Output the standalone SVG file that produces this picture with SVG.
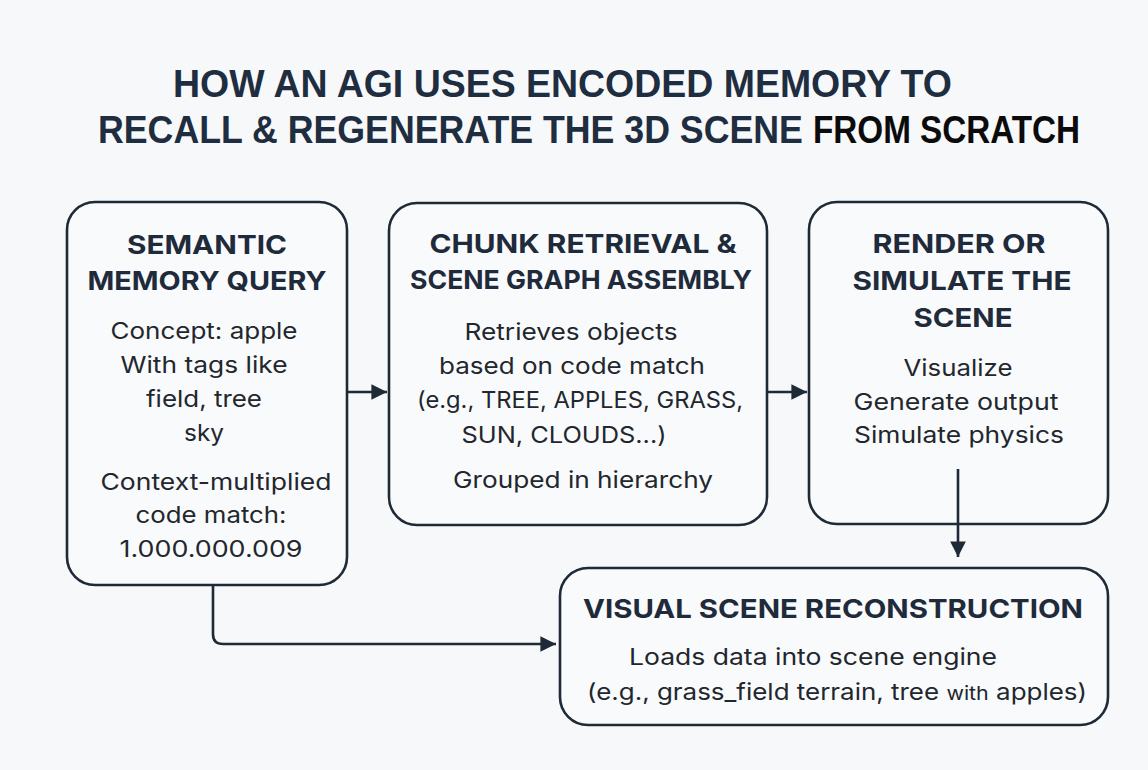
<svg xmlns="http://www.w3.org/2000/svg" width="1148" height="770" viewBox="0 0 1148 770">
<style>
.bg{fill:#f7f8fa}
.box{fill:#f9fafb;stroke:#1f2a37;stroke-width:2.6}
.title{font-family:"Liberation Sans",Arial,sans-serif;font-weight:bold;font-size:38px;fill:#1f2d40}
.blk{fill:#0b0b0b}
.h{font-family:Inter,"Open Sans",sans-serif;font-weight:bold;font-size:26px;fill:#1f2b3b;text-anchor:middle}
.t{font-family:Inter,"Open Sans",sans-serif;font-size:23px;fill:#22272e;text-anchor:middle}
.c{fill:none;stroke:#1f2a37;stroke-width:2.6}
</style>
<defs>
<marker id="ah" viewBox="0 0 10 10" refX="10" refY="5" markerWidth="6" markerHeight="6.4" markerUnits="strokeWidth" orient="auto">
<path d="M0,0 L10,5 L0,10 z" fill="#1f2a37"/>
</marker>
</defs>
<rect class="bg" x="0" y="0" width="1148" height="770"/>
<g id="title">
<text class="title" transform="translate(173,97) scale(0.986,1)">HOW AN AGI USES ENCODED MEMORY TO</text>
<text class="title" transform="translate(98,143) scale(0.94,1)">RECALL &amp; REGENERATE THE 3D SCENE</text>
<text class="title blk" transform="translate(813,143) scale(0.875,1)">FROM SCRATCH</text>
</g>
<g id="semantic-memory-query">
<rect class="box" x="67" y="202" width="280" height="383" rx="28"/>
<text class="h" x="207" y="254" textLength="160" lengthAdjust="spacingAndGlyphs">SEMANTIC</text>
<text class="h" x="207" y="290" textLength="239" lengthAdjust="spacingAndGlyphs">MEMORY QUERY</text>
<text class="t" x="204" y="339" textLength="187" lengthAdjust="spacingAndGlyphs">Concept: apple</text>
<text class="t" x="204" y="373" textLength="167" lengthAdjust="spacingAndGlyphs">With tags like</text>
<text class="t" x="204" y="407" textLength="116" lengthAdjust="spacingAndGlyphs">field, tree</text>
<text class="t" x="204" y="441" textLength="40" lengthAdjust="spacingAndGlyphs">sky</text>
<text class="t" x="216" y="490" textLength="231" lengthAdjust="spacingAndGlyphs">Context-multiplied</text>
<text class="t" x="211" y="523" textLength="151" lengthAdjust="spacingAndGlyphs">code match:</text>
<text class="t" x="211" y="557" textLength="183" lengthAdjust="spacingAndGlyphs">1.000.000.009</text>
</g>
<g id="chunk-retrieval">
<rect class="box" x="389" y="203" width="378" height="322" rx="28"/>
<text class="h" x="583" y="253" textLength="307" lengthAdjust="spacingAndGlyphs">CHUNK RETRIEVAL &amp;</text>
<text class="h" x="581" y="289" textLength="342" lengthAdjust="spacingAndGlyphs">SCENE GRAPH ASSEMBLY</text>
<text class="t" x="571" y="340" textLength="213" lengthAdjust="spacingAndGlyphs">Retrieves objects</text>
<text class="t" x="572" y="374" textLength="266" lengthAdjust="spacingAndGlyphs">based on code match</text>
<text class="t" x="580" y="408" textLength="326" lengthAdjust="spacingAndGlyphs">(e.g., TREE, APPLES, GRASS,</text>
<text class="t" x="564" y="443" textLength="205" lengthAdjust="spacingAndGlyphs">SUN, CLOUDS...)</text>
<text class="t" x="583" y="488" textLength="260" lengthAdjust="spacingAndGlyphs">Grouped in hierarchy</text>
</g>
<g id="render-simulate">
<rect class="box" x="809" y="202" width="299" height="322" rx="28"/>
<text class="h" x="959" y="253" textLength="173" lengthAdjust="spacingAndGlyphs">RENDER OR</text>
<text class="h" x="962" y="290" textLength="219" lengthAdjust="spacingAndGlyphs">SIMULATE THE</text>
<text class="h" x="963" y="327" textLength="99" lengthAdjust="spacingAndGlyphs">SCENE</text>
<text class="t" x="958" y="376" textLength="109" lengthAdjust="spacingAndGlyphs">Visualize</text>
<text class="t" x="956" y="410" textLength="205" lengthAdjust="spacingAndGlyphs">Generate output</text>
<text class="t" x="959" y="443" textLength="210" lengthAdjust="spacingAndGlyphs">Simulate physics</text>
</g>
<g id="visual-scene-reconstruction">
<rect class="box" x="560" y="568" width="548" height="157" rx="28"/>
<text class="h" x="833" y="618" textLength="500" lengthAdjust="spacingAndGlyphs">VISUAL SCENE RECONSTRUCTION</text>
<text class="t" x="813" y="665" textLength="368" lengthAdjust="spacingAndGlyphs">Loads data into scene engine</text>
<text class="t" x="837" y="700" textLength="500" lengthAdjust="spacingAndGlyphs">(e.g., grass_field terrain, tree <tspan font-size="19">with</tspan> apples)</text>
</g>
<g id="connectors">
<path class="c" d="M347,392 H387" marker-end="url(#ah)"/>
<path class="c" d="M767,392 H807" marker-end="url(#ah)"/>
<path class="c" d="M958,469 V557" marker-end="url(#ah)"/>
<path class="c" d="M213,586 V634 Q213,644 223,644 H556" marker-end="url(#ah)"/>
</g>
</svg>
